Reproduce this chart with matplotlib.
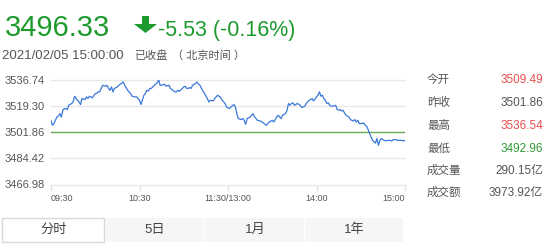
import matplotlib
matplotlib.use("Agg")
import matplotlib.pyplot as plt
from matplotlib.patches import Polygon, Rectangle

plt.rcParams['font.family'] = ['Liberation Sans', 'Noto Sans CJK SC']

# ----------------------------
# Datos
# ----------------------------
prev_close = 3501.86
last_price = "3496.33"
change_text = "-5.53 (-0.16%)"
timestamp = "2021/02/05 15:00:00"

y_ticks = [3466.98, 3484.42, 3501.86, 3519.30, 3536.74]
x_ticks = [0, 60, 120, 180, 240]
x_labels = ["09:30", "10:30", "11:30/13:00", "14:00", "15:00"]

# minutos de negociación desde las 09:30 (sin la pausa del mediodía)
minutes = [
    0, 1, 2, 4, 5, 6, 7, 8, 9, 10,
    11, 12, 14, 15, 16, 17, 18, 19, 20, 21,
    23, 24, 25, 26, 27, 28, 30, 31, 32, 33,
    34, 35, 37, 38, 39, 40, 41, 42, 43, 45,
    46, 47, 49, 50, 52, 54, 55, 57, 58, 60,
    61, 63, 64, 65, 66, 67, 68, 70, 72, 73,
    74, 75, 77, 78, 80, 81, 82, 84, 85, 86,
    87, 89, 90, 91, 92, 93, 94, 95, 96, 98,
    99, 100, 101, 102, 103, 104, 106, 107, 108, 110,
    111, 112, 113, 115, 116, 118, 119, 121, 122, 124,
    125, 126, 127, 129, 130, 131, 132, 133, 135, 136,
    137, 138, 139, 140, 142, 143, 144, 145, 146, 147,
    148, 150, 151, 152, 153, 154, 155, 156, 157, 159,
    160, 161, 162, 163, 164, 165, 167, 168, 169, 170,
    172, 173, 174, 175, 176, 177, 178, 180, 181, 182,
    183, 184, 185, 186, 187, 188, 189, 190, 191, 193,
    194, 195, 196, 197, 198, 199, 200, 202, 203, 204,
    205, 206, 207, 208, 209, 211, 212, 213, 214, 215,
    216, 217, 218, 220, 221, 222, 223, 224, 225, 226,
    227, 228, 230, 231, 232, 233, 234, 235, 237, 238,
    239, 240,
]
prices = [
    3509.5, 3506.3, 3507.5, 3511.8, 3512.5, 3514.1, 3511.8, 3516.3, 3517.4, 3517.4,
    3516.8, 3519.6, 3520.8, 3521.8, 3525.6, 3524.1, 3523.0, 3521.8, 3520.1, 3524.1,
    3523.4, 3525.2, 3524.1, 3525.6, 3525.2, 3524.5, 3527.4, 3527.4, 3528.5, 3528.5,
    3530.8, 3532.9, 3532.3, 3532.9, 3530.8, 3529.6, 3531.8, 3528.5, 3530.8, 3531.8,
    3532.9, 3533.6, 3535.1, 3532.9, 3529.6, 3527.4, 3525.6, 3525.2, 3525.2, 3523.0,
    3520.1, 3526.3, 3527.4, 3529.6, 3529.1, 3530.8, 3530.8, 3532.9, 3534.5, 3536.5,
    3532.9, 3532.9, 3533.6, 3532.3, 3532.9, 3530.8, 3530.1, 3528.5, 3528.5, 3529.6,
    3528.9, 3530.8, 3531.8, 3532.3, 3530.8, 3530.8, 3531.4, 3530.8, 3532.9, 3534.1,
    3535.1, 3533.6, 3532.9, 3530.8, 3529.1, 3527.4, 3524.1, 3521.8, 3523.0, 3522.5,
    3524.1, 3525.2, 3526.3, 3524.8, 3523.0, 3520.8, 3518.5, 3517.4, 3518.5, 3520.1,
    3518.5, 3514.1, 3510.8, 3510.1, 3510.8, 3509.6, 3507.0, 3510.8, 3511.8, 3513.0,
    3514.1, 3511.8, 3510.8, 3509.6, 3509.2, 3508.5, 3507.9, 3507.0, 3506.3, 3507.5,
    3508.5, 3509.6, 3508.5, 3510.1, 3511.8, 3513.0, 3511.8, 3510.8, 3513.0, 3514.1,
    3516.3, 3520.8, 3519.6, 3520.8, 3521.2, 3519.6, 3520.8, 3520.3, 3519.6, 3518.1,
    3519.0, 3520.8, 3521.8, 3523.0, 3523.4, 3524.1, 3522.5, 3525.2, 3526.3, 3528.5,
    3525.6, 3526.3, 3524.1, 3523.0, 3520.8, 3521.2, 3519.6, 3519.0, 3519.0, 3519.6,
    3516.8, 3516.3, 3516.8, 3515.8, 3516.3, 3514.5, 3513.0, 3511.8, 3510.1, 3509.6,
    3509.2, 3510.1, 3508.5, 3509.6, 3507.5, 3507.5, 3507.9, 3506.3, 3505.7, 3503.5,
    3500.8, 3498.5, 3496.3, 3494.5, 3497.5, 3493.0, 3496.3, 3497.5, 3496.8, 3496.3,
    3495.9, 3496.3, 3496.3, 3495.9, 3496.8, 3496.8, 3496.8, 3496.3, 3496.3, 3496.3,
    3495.9, 3496.33,
]

stat_names = ["今开", "昨收", "最高", "最低", "成交量", "成交额"]
stat_values = ["3509.49", "3501.86", "3536.54", "3492.96", "290.15亿", "3973.92亿"]
stat_colors = ["#e5514f", "#555555", "#e5514f", "#2e9a35", "#555555", "#555555"]

tabs = ["分时", "5日", "1月", "1年"]

# ----------------------------
# Figura
# ----------------------------
W, H = 548, 244
fig = plt.figure(figsize=(W / 100, H / 100), dpi=100)


def fx(x):
    return x / W


def fy(y):
    return 1 - y / H


GREEN = "#1c9a2c"

# cabecera
fig.text(fx(5), fy(36.5), last_price, fontsize=21, color=GREEN, va="baseline")
arrow = [(142, 16), (149, 16), (149, 24), (157, 24), (145.5, 33), (134, 24), (142, 24)]
fig.add_artist(Polygon([(fx(x), fy(y)) for x, y in arrow], closed=True,
                       transform=fig.transFigure, color=GREEN, lw=0))
fig.text(fx(158), fy(36), change_text, fontsize=15.5, color=GREEN, va="baseline")
fig.text(fx(2), fy(59), timestamp, fontsize=9.5, color="#555555", va="baseline")
fig.text(fx(135), fy(59), "已收盘", fontsize=8, color="#555555", va="baseline")
fig.text(fx(172), fy(59), "（ 北京时间 ）", fontsize=8, color="#555555", va="baseline")

# gráfico de minutos
ax = fig.add_axes([fx(51), fy(184.5), (405 - 51) / W, (184.5 - 79.5) / H])
ax.set_xlim(0, 240)
ax.set_ylim(y_ticks[0], y_ticks[-1])
for s in ax.spines.values():
    s.set_visible(False)
for v in y_ticks:
    if v != prev_close:
        ax.axhline(v, color="#e8e8e8", lw=1, clip_on=False, zorder=1)
ax.axhline(prev_close, color="#6aab58", lw=1, zorder=2)
ax.plot(minutes, prices, color="#3b78d8", lw=0.9, zorder=3)

ax.set_yticks(y_ticks)
ax.set_yticklabels([f"{v:.2f}" for v in y_ticks])
ax.tick_params(axis="y", length=0, labelsize=8, labelcolor="#555555", pad=4.5)
ax.set_xticks(x_ticks)
ax.set_xticklabels(x_labels)
ax.tick_params(axis="x", direction="out", length=4.5, width=1, color="#e3e3e3",
               labelsize=6.5, labelcolor="#555555", pad=2.5)
xl = ax.get_xticklabels()
xl[0].set_ha("left")
xl[-1].set_ha("right")

# panel de datos a la derecha
row_y = [80, 103, 126, 149, 171, 193]
for name, val, col, y in zip(stat_names, stat_values, stat_colors, row_y):
    fig.text(fx(427), fy(y), name, fontsize=8.3, color="#555555", va="center")
    fig.text(fx(543), fy(y), val, fontsize=8.5, color=col, va="center", ha="right")

# pestañas
tab_x = [2, 105, 205, 305, 404]
for i, label in enumerate(tabs):
    x0, x1 = tab_x[i], tab_x[i + 1]
    if i == 0:
        rect = Rectangle((fx(x0), fy(242)), fx(x1 - x0 - 1), (242 - 218) / H,
                         transform=fig.transFigure, facecolor="white",
                         edgecolor="#d9d9d9", lw=1)
    else:
        rect = Rectangle((fx(x0), fy(242)), fx(x1 - x0 - 1), (242 - 218) / H,
                         transform=fig.transFigure, facecolor="#f6f6f6",
                         edgecolor="none")
    fig.add_artist(rect)
    fig.text(fx((x0 + x1) / 2), fy(230), label, fontsize=9.5, color="#444444",
             ha="center", va="center")

fig.savefig("out.png", dpi=100)
